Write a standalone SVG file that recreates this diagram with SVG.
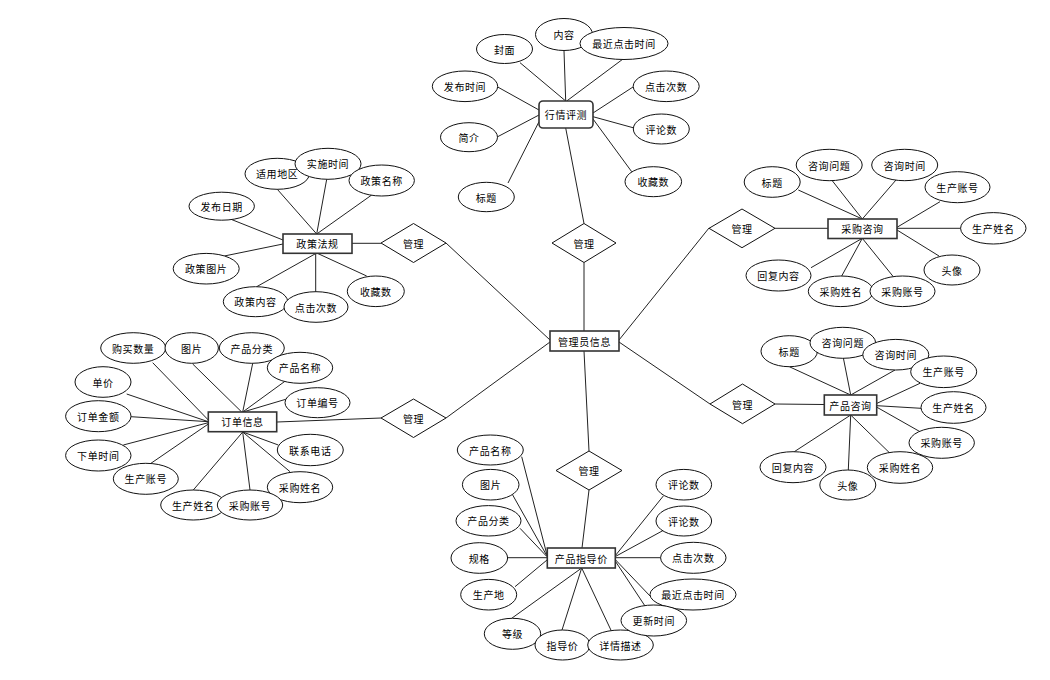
<svg xmlns="http://www.w3.org/2000/svg" width="1050" height="680" viewBox="0 0 1050 680">
<style>
.l{stroke:#222;stroke-width:1;fill:none}
.e{fill:#fff;stroke:#111;stroke-width:1}
.b{fill:#fff;stroke:#333;stroke-width:1.6}
.d{fill:#fff;stroke:#111;stroke-width:1}
text{font-family:"Noto Sans CJK SC","Liberation Sans",sans-serif;font-size:10px;letter-spacing:0.6px;fill:#000;text-anchor:middle;dominant-baseline:central}
</style>
<rect width="1050" height="680" fill="#fff"/>
<g id="connectors">
<line class="l" x1="520" y1="62.7" x2="565.7" y2="101"/>
<line class="l" x1="564" y1="50.7" x2="565.7" y2="101"/>
<line class="l" x1="623" y1="59" x2="566.7" y2="101"/>
<line class="l" x1="497.7" y1="87" x2="539" y2="110"/>
<line class="l" x1="497.7" y1="136.7" x2="539" y2="115"/>
<line class="l" x1="508" y1="183" x2="539" y2="121.7"/>
<line class="l" x1="633" y1="87" x2="593" y2="113"/>
<line class="l" x1="633" y1="127.7" x2="593" y2="116.7"/>
<line class="l" x1="631.7" y1="171.7" x2="593" y2="119"/>
<line class="l" x1="565.7" y1="128" x2="584" y2="223.5"/>
<line class="l" x1="584" y1="262.5" x2="584" y2="331"/>
<line class="l" x1="446" y1="243" x2="550" y2="340"/>
<line class="l" x1="381" y1="243.3" x2="352" y2="243.3"/>
<line class="l" x1="446" y1="418" x2="550" y2="342"/>
<line class="l" x1="381" y1="418" x2="277" y2="422"/>
<line class="l" x1="709" y1="228" x2="619" y2="340"/>
<line class="l" x1="775" y1="228.3" x2="828" y2="228.3"/>
<line class="l" x1="710" y1="404" x2="619" y2="342"/>
<line class="l" x1="775" y1="404" x2="824" y2="404.5"/>
<line class="l" x1="584" y1="351" x2="589" y2="451"/>
<line class="l" x1="589" y1="490" x2="582" y2="548"/>
<line class="l" x1="277.3" y1="189.3" x2="316.7" y2="234"/>
<line class="l" x1="326.7" y1="179.3" x2="316.7" y2="234"/>
<line class="l" x1="371.7" y1="195" x2="316.7" y2="234"/>
<line class="l" x1="231" y1="219.3" x2="283" y2="240"/>
<line class="l" x1="224.3" y1="256" x2="283" y2="244"/>
<line class="l" x1="256.7" y1="286.7" x2="316.7" y2="253"/>
<line class="l" x1="315.7" y1="291.7" x2="315.7" y2="253"/>
<line class="l" x1="366.7" y1="276" x2="316.7" y2="253"/>
<line class="l" x1="152.7" y1="362.7" x2="208.3" y2="420"/>
<line class="l" x1="192.7" y1="364" x2="241.7" y2="412"/>
<line class="l" x1="252.7" y1="363.3" x2="242.7" y2="412"/>
<line class="l" x1="286.7" y1="380" x2="242.7" y2="412"/>
<line class="l" x1="286.7" y1="399" x2="243" y2="412"/>
<line class="l" x1="126.7" y1="394" x2="208.3" y2="421.7"/>
<line class="l" x1="131" y1="416.7" x2="208.3" y2="421.7"/>
<line class="l" x1="123.3" y1="445" x2="208.3" y2="422.7"/>
<line class="l" x1="146" y1="466.7" x2="208.3" y2="424"/>
<line class="l" x1="278.3" y1="445" x2="242.7" y2="432"/>
<line class="l" x1="290" y1="471.7" x2="242.7" y2="432"/>
<line class="l" x1="250" y1="490" x2="242.7" y2="432"/>
<line class="l" x1="193.3" y1="490" x2="242.7" y2="432"/>
<line class="l" x1="798.3" y1="190" x2="862.3" y2="219"/>
<line class="l" x1="831.7" y1="180" x2="862.3" y2="219"/>
<line class="l" x1="896" y1="180" x2="862.3" y2="219"/>
<line class="l" x1="940" y1="201.7" x2="897" y2="227.3"/>
<line class="l" x1="961.7" y1="228.3" x2="897" y2="228.3"/>
<line class="l" x1="939" y1="256" x2="897" y2="230"/>
<line class="l" x1="811" y1="267.7" x2="862.3" y2="238.3"/>
<line class="l" x1="841.7" y1="276" x2="862.3" y2="238.3"/>
<line class="l" x1="893.3" y1="276.7" x2="862.3" y2="238.3"/>
<line class="l" x1="789.3" y1="366.7" x2="850.7" y2="395"/>
<line class="l" x1="843.3" y1="357.7" x2="850.7" y2="395"/>
<line class="l" x1="895" y1="370" x2="850.7" y2="395"/>
<line class="l" x1="920" y1="383.3" x2="877" y2="403.3"/>
<line class="l" x1="921" y1="408.3" x2="877" y2="405.7"/>
<line class="l" x1="920" y1="431.7" x2="877" y2="407.3"/>
<line class="l" x1="890" y1="453.3" x2="850.7" y2="415"/>
<line class="l" x1="794.3" y1="451.7" x2="850.7" y2="415"/>
<line class="l" x1="848.3" y1="470" x2="850.7" y2="415"/>
<line class="l" x1="521.7" y1="456.7" x2="547" y2="555"/>
<line class="l" x1="512.7" y1="495" x2="547" y2="556"/>
<line class="l" x1="520" y1="528.3" x2="547" y2="556.7"/>
<line class="l" x1="507.7" y1="557.7" x2="547" y2="557.7"/>
<line class="l" x1="515" y1="586.7" x2="547" y2="560"/>
<line class="l" x1="511.7" y1="618.3" x2="581.7" y2="568"/>
<line class="l" x1="561.7" y1="631" x2="581.7" y2="568"/>
<line class="l" x1="611.7" y1="631.7" x2="581.7" y2="568"/>
<line class="l" x1="645" y1="606" x2="615" y2="560.7"/>
<line class="l" x1="650.7" y1="596.7" x2="615" y2="559.3"/>
<line class="l" x1="660.7" y1="557.7" x2="615" y2="557.7"/>
<line class="l" x1="664" y1="530" x2="615" y2="556.7"/>
<line class="l" x1="663.3" y1="496" x2="615" y2="556"/>
</g>
<g id="admin"><rect class="b" x="550" y="331" width="69" height="20"/><text x="584.5" y="341">管理员信息</text></g>
<g id="rel-top"><polygon class="d" points="584,223.5 616,243 584,262.5 552,243"/><text x="584" y="243">管理</text></g>
<g id="rel-ul"><polygon class="d" points="413.5,223.5 446,243 413.5,262.5 381,243"/><text x="413.5" y="243">管理</text></g>
<g id="rel-ll"><polygon class="d" points="413.5,399 446,418 413.5,437.5 381,418"/><text x="413.5" y="418">管理</text></g>
<g id="rel-ur"><polygon class="d" points="742,209 775,228.3 742,247.7 709,228.3"/><text x="742" y="228.3">管理</text></g>
<g id="rel-lr"><polygon class="d" points="742.5,384 775,404 742.5,423.7 710,404"/><text x="742.5" y="404">管理</text></g>
<g id="rel-bot"><polygon class="d" points="589,451 622,470.5 589,490 556,470.5"/><text x="589" y="470.5">管理</text></g>

<g id="hqpc"><rect class="b" x="539" y="101" width="54" height="27" rx="4"/><text x="566" y="114.5">行情评测</text></g>
<g id="hq-fm"><ellipse class="e" cx="504.5" cy="49" rx="28" ry="14.5"/><text x="504.5" y="49">封面</text></g>
<g id="hq-nr"><ellipse class="e" cx="564" cy="34.5" rx="28.5" ry="16"/><text x="564" y="34.5">内容</text></g>
<g id="hq-zj"><ellipse class="e" cx="624" cy="43.5" rx="44" ry="16"/><text x="624" y="43.5">最近点击时间</text></g>
<g id="hq-fb"><ellipse class="e" cx="465" cy="86.3" rx="32.7" ry="15.3"/><text x="465" y="86.3">发布时间</text></g>
<g id="hq-jj"><ellipse class="e" cx="469" cy="137.2" rx="28.5" ry="14.5"/><text x="469" y="137.2">简介</text></g>
<g id="hq-bt"><ellipse class="e" cx="486.3" cy="197" rx="28" ry="14.7"/><text x="486.3" y="197">标题</text></g>
<g id="hq-dj"><ellipse class="e" cx="666.2" cy="86.3" rx="33" ry="15.3"/><text x="666.2" y="86.3">点击次数</text></g>
<g id="hq-pl"><ellipse class="e" cx="661.3" cy="129" rx="28" ry="15"/><text x="661.3" y="129">评论数</text></g>
<g id="hq-sc"><ellipse class="e" cx="653.3" cy="181.7" rx="28.3" ry="15"/><text x="653.3" y="181.7">收藏数</text></g>

<g id="zcfg"><rect class="b" x="283" y="234" width="69" height="19.3"/><text x="317.5" y="243.7">政策法规</text></g>
<g id="zc-sy"><ellipse class="e" cx="277.2" cy="173.8" rx="32.2" ry="15.5"/><text x="277.2" y="173.8">适用地区</text></g>
<g id="zc-ss"><ellipse class="e" cx="328" cy="163.8" rx="33" ry="15.5"/><text x="328" y="163.8">实施时间</text></g>
<g id="zc-mc"><ellipse class="e" cx="381.7" cy="180.5" rx="32.7" ry="15.5"/><text x="381.7" y="180.5">政策名称</text></g>
<g id="zc-fb"><ellipse class="e" cx="221.7" cy="206.2" rx="32.7" ry="14"/><text x="221.7" y="206.2">发布日期</text></g>
<g id="zc-tp"><ellipse class="e" cx="206.2" cy="268.7" rx="33" ry="15.3"/><text x="206.2" y="268.7">政策图片</text></g>
<g id="zc-nr"><ellipse class="e" cx="255.5" cy="301.7" rx="32.2" ry="15"/><text x="255.5" y="301.7">政策内容</text></g>
<g id="zc-dj"><ellipse class="e" cx="316" cy="307" rx="32" ry="15.3"/><text x="316" y="307">点击次数</text></g>
<g id="zc-sc"><ellipse class="e" cx="375.8" cy="291.3" rx="28.5" ry="15.3"/><text x="375.8" y="291.3">收藏数</text></g>

<g id="ddxx"><rect class="b" x="208.3" y="412" width="68.4" height="19.7"/><text x="242.5" y="421.8">订单信息</text></g>
<g id="dd-gm"><ellipse class="e" cx="133.2" cy="348" rx="32.5" ry="15.3"/><text x="133.2" y="348">购买数量</text></g>
<g id="dd-tp"><ellipse class="e" cx="191.7" cy="348" rx="26.7" ry="15.3"/><text x="191.7" y="348">图片</text></g>
<g id="dd-fl"><ellipse class="e" cx="251.8" cy="348" rx="32.5" ry="15.3"/><text x="251.8" y="348">产品分类</text></g>
<g id="dd-mc"><ellipse class="e" cx="300" cy="367.8" rx="32.7" ry="15.5"/><text x="300" y="367.8">产品名称</text></g>
<g id="dd-dj"><ellipse class="e" cx="103" cy="382" rx="28" ry="15.3"/><text x="103" y="382">单价</text></g>
<g id="dd-bh"><ellipse class="e" cx="317.5" cy="402.7" rx="32.5" ry="15"/><text x="317.5" y="402.7">订单编号</text></g>
<g id="dd-je"><ellipse class="e" cx="98.3" cy="416.2" rx="32.7" ry="15.5"/><text x="98.3" y="416.2">订单金额</text></g>
<g id="dd-xd"><ellipse class="e" cx="98.3" cy="455.5" rx="32.7" ry="15.5"/><text x="98.3" y="455.5">下单时间</text></g>
<g id="dd-dh"><ellipse class="e" cx="310.3" cy="450" rx="33" ry="15.7"/><text x="310.3" y="450">联系电话</text></g>
<g id="dd-sczh"><ellipse class="e" cx="145.8" cy="478.8" rx="32.5" ry="15.5"/><text x="145.8" y="478.8">生产账号</text></g>
<g id="dd-cgxm"><ellipse class="e" cx="300" cy="487.2" rx="32.7" ry="15.5"/><text x="300" y="487.2">采购姓名</text></g>
<g id="dd-scxm"><ellipse class="e" cx="193.2" cy="505" rx="32.5" ry="15"/><text x="193.2" y="505">生产姓名</text></g>
<g id="dd-cgzh"><ellipse class="e" cx="250" cy="505" rx="32.7" ry="15"/><text x="250" y="505">采购账号</text></g>

<g id="cgzx"><rect class="b" x="828" y="219" width="69" height="19.5"/><text x="862.5" y="228.7">采购咨询</text></g>
<g id="cg-bt"><ellipse class="e" cx="772.2" cy="182" rx="28" ry="15.3"/><text x="772.2" y="182">标题</text></g>
<g id="cg-wt"><ellipse class="e" cx="829.2" cy="165" rx="33" ry="15.7"/><text x="829.2" y="165">咨询问题</text></g>
<g id="cg-sj"><ellipse class="e" cx="904.7" cy="165" rx="33" ry="15.7"/><text x="904.7" y="165">咨询时间</text></g>
<g id="cg-sczh"><ellipse class="e" cx="957.5" cy="187.2" rx="32.5" ry="15.5"/><text x="957.5" y="187.2">生产账号</text></g>
<g id="cg-scxm"><ellipse class="e" cx="993.3" cy="228.3" rx="32.7" ry="15.7"/><text x="993.3" y="228.3">生产姓名</text></g>
<g id="cg-tx"><ellipse class="e" cx="952" cy="270" rx="28" ry="15"/><text x="952" y="270">头像</text></g>
<g id="cg-hf"><ellipse class="e" cx="778.5" cy="275.5" rx="32.5" ry="15.5"/><text x="778.5" y="275.5">回复内容</text></g>
<g id="cg-cgxm"><ellipse class="e" cx="840.8" cy="291.3" rx="32.5" ry="15.3"/><text x="840.8" y="291.3">采购姓名</text></g>
<g id="cg-cgzh"><ellipse class="e" cx="902.5" cy="291.3" rx="32.5" ry="15.3"/><text x="902.5" y="291.3">采购账号</text></g>

<g id="cpzx"><rect class="b" x="824.3" y="395" width="52.4" height="20"/><text x="850.5" y="405">产品咨询</text></g>
<g id="cp-bt"><ellipse class="e" cx="789.2" cy="351.2" rx="28.2" ry="15.5"/><text x="789.2" y="351.2">标题</text></g>
<g id="cp-wt"><ellipse class="e" cx="842.8" cy="342.8" rx="32.8" ry="15.5"/><text x="842.8" y="342.8">咨询问题</text></g>
<g id="cp-sj"><ellipse class="e" cx="895.8" cy="354.7" rx="33" ry="15.3"/><text x="895.8" y="354.7">咨询时间</text></g>
<g id="cp-sczh"><ellipse class="e" cx="943.7" cy="371.8" rx="33" ry="15.8"/><text x="943.7" y="371.8">生产账号</text></g>
<g id="cp-scxm"><ellipse class="e" cx="953.5" cy="407.5" rx="32.5" ry="15.8"/><text x="953.5" y="407.5">生产姓名</text></g>
<g id="cp-cgzh"><ellipse class="e" cx="941.7" cy="442.8" rx="32.7" ry="15.5"/><text x="941.7" y="442.8">采购账号</text></g>
<g id="cp-cgxm"><ellipse class="e" cx="900" cy="467.5" rx="32.7" ry="15.8"/><text x="900" y="467.5">采购姓名</text></g>
<g id="cp-hf"><ellipse class="e" cx="793" cy="467.2" rx="33" ry="15.5"/><text x="793" y="467.2">回复内容</text></g>
<g id="cp-tx"><ellipse class="e" cx="847.8" cy="485" rx="28" ry="15"/><text x="847.8" y="485">头像</text></g>

<g id="cpzdj"><rect class="b" x="547.3" y="548" width="68" height="20"/><text x="581.3" y="558">产品指导价</text></g>
<g id="zd-mc"><ellipse class="e" cx="490.3" cy="450" rx="33" ry="15"/><text x="490.3" y="450">产品名称</text></g>
<g id="zd-tp"><ellipse class="e" cx="490.7" cy="484.7" rx="28.3" ry="15.3"/><text x="490.7" y="484.7">图片</text></g>
<g id="zd-fl"><ellipse class="e" cx="488.5" cy="520.8" rx="32.5" ry="15.2"/><text x="488.5" y="520.8">产品分类</text></g>
<g id="zd-gg"><ellipse class="e" cx="479.3" cy="558" rx="28.3" ry="15.3"/><text x="479.3" y="558">规格</text></g>
<g id="zd-scd"><ellipse class="e" cx="488.7" cy="594.7" rx="28" ry="15.3"/><text x="488.7" y="594.7">生产地</text></g>
<g id="zd-dj"><ellipse class="e" cx="512.5" cy="633.8" rx="28.2" ry="15.5"/><text x="512.5" y="633.8">等级</text></g>
<g id="zd-zdj"><ellipse class="e" cx="562.5" cy="645" rx="27.5" ry="15"/><text x="562.5" y="645">指导价</text></g>
<g id="zd-xq"><ellipse class="e" cx="620.5" cy="645" rx="32.8" ry="15"/><text x="620.5" y="645">详情描述</text></g>
<g id="zd-zj"><ellipse class="e" cx="693" cy="594.5" rx="43" ry="15.5"/><text x="693" y="594.5">最近点击时间</text></g>
<g id="zd-gx"><ellipse class="e" cx="653.8" cy="620.5" rx="32.8" ry="15.5"/><text x="653.8" y="620.5">更新时间</text></g>
<g id="zd-djcs"><ellipse class="e" cx="693.3" cy="557.8" rx="32.7" ry="15.5"/><text x="693.3" y="557.8">点击次数</text></g>
<g id="zd-pl2"><ellipse class="e" cx="683.8" cy="521" rx="27.8" ry="15"/><text x="683.8" y="521">评论数</text></g>
<g id="zd-pl1"><ellipse class="e" cx="683.8" cy="484.7" rx="27.8" ry="15.3"/><text x="683.8" y="484.7">评论数</text></g>
</svg>
